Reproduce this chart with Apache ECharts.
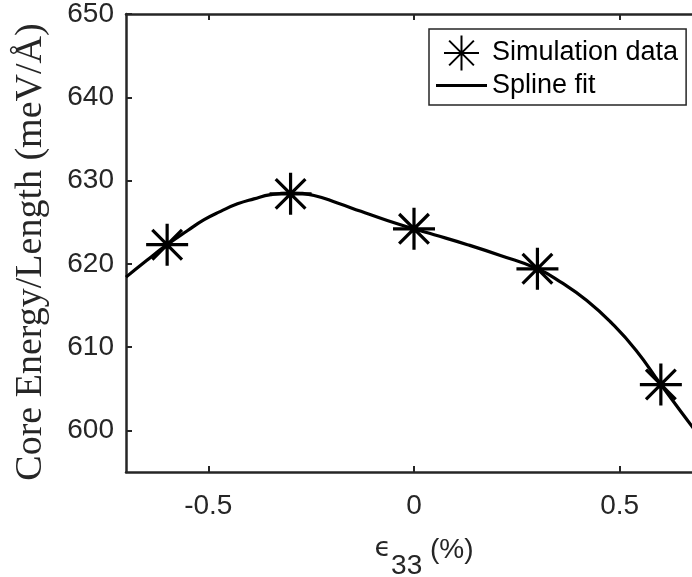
<!DOCTYPE html>
<html>
<head>
<meta charset="utf-8">
<script src="https://cdn.jsdelivr.net/npm/echarts@6/dist/echarts.min.js"></script>
<style>
  html, body { margin: 0; padding: 0; background: #fff; }
  #chart { width: 692px; height: 577px; }
</style>
</head>
<body>
<div id="chart"></div>
<script>
// simulation points
const simX = [-0.6, -0.3, 0, 0.3, 0.6]
const simY = [622.3, 628.4, 624.2, 619.4, 605.5]

// spline fit
const fitX = [-0.7, -0.65, -0.6, -0.55, -0.51, -0.47, -0.429, -0.389, -0.348, -0.3, -0.243, -0.186, -0.129, -0.065, 0, 0.049, 0.13, 0.21, 0.3, 0.36, 0.42, 0.48, 0.54, 0.6, 0.677, 0.7]
const fitY = [618.4, 620.4, 622.3, 624.0, 625.3, 626.3, 627.2, 627.8, 628.3, 628.5, 628.2, 627.3, 626.3, 625.2, 624.2, 623.5, 622.3, 621.0, 619.4, 617.7, 615.6, 612.9, 609.6, 605.5, 600.4, 598.9]

// axis ticks
const xTicks = [-0.5, 0, 0.5]
const yTicks = [600, 610, 620, 630, 640, 650]

const axisColor = '#262626'
// asterisk marker (matlab '*')
const star = 'path://M0,21L42,21M21,0L21,42M6.15,6.15L35.85,35.85M35.85,6.15L6.15,35.85'
// plain line for the legend
const dash = 'path://M0,0L51,0L51,3L0,3Z'

const chart = echarts.init(document.getElementById('chart'))

const xBase = {
  type: 'value',
  min: -0.7,
  max: 0.7,
  splitLine: { show: false },
  axisLine: { show: true, onZero: false, lineStyle: { color: axisColor, width: 2.5 } },
  axisTick: { show: true, inside: true, length: 6, customValues: xTicks, lineStyle: { color: axisColor, width: 2 } }
}
const yBase = {
  type: 'value',
  min: 595,
  max: 650,
  splitLine: { show: false },
  axisLine: { show: true, onZero: false, lineStyle: { color: axisColor, width: 2.5 } },
  axisTick: { show: true, inside: true, length: 6, customValues: yTicks, lineStyle: { color: axisColor, width: 2 } }
}

const option = {
  animation: false,
  backgroundColor: '#fff',
  grid: { left: 126, top: 14, right: -10, bottom: 105, outerBoundsMode: 'none' },
  legend: {
    orient: 'vertical',
    left: 429,
    top: 29,
    padding: [4, 8, 6, 7],
    itemWidth: 51,
    itemHeight: 35,
    itemGap: -1,
    borderColor: axisColor,
    borderWidth: 1.5,
    backgroundColor: '#fff',
    textStyle: { fontFamily: 'Liberation Sans', fontSize: 27, color: '#000' },
    data: [
      { name: 'Simulation data', icon: star },
      { name: 'Spline fit', icon: dash }
    ]
  },
  xAxis: [
    Object.assign({}, xBase, {
      position: 'bottom',
      axisLabel: {
        customValues: xTicks,
        margin: 20,
        fontFamily: 'Liberation Sans',
        fontSize: 28,
        color: axisColor
      },
      name: '{e|ϵ}{s|33}{n| (%)}',
      nameLocation: 'middle',
      nameGap: 63,
      nameTextStyle: {
        padding: [0, 0, 0, 20],
        rich: {
          e: { fontFamily: 'DejaVu Sans', fontSize: 27, color: axisColor, verticalAlign: 'top', lineHeight: 30 },
          s: { fontFamily: 'Liberation Sans', fontSize: 28, color: axisColor, verticalAlign: 'top', lineHeight: 30, padding: [17, 0, 0, 0] },
          n: { fontFamily: 'Liberation Sans', fontSize: 28, color: axisColor, verticalAlign: 'top', lineHeight: 30, padding: [1, 0, 0, 0] }
        }
      }
    }),
    Object.assign({}, xBase, { position: 'top', axisLabel: { show: false } })
  ],
  yAxis: [
    Object.assign({}, yBase, {
      position: 'left',
      axisLabel: {
        customValues: yTicks,
        margin: 12,
        fontFamily: 'Liberation Sans',
        fontSize: 28,
        color: axisColor
      },
      name: 'Core Energy/Length (meV/Å)',
      nameLocation: 'middle',
      nameGap: 76,
      nameTextStyle: {
        fontFamily: 'Liberation Serif',
        fontSize: 38,
        color: axisColor,
        padding: [0, 18, 0, 0]
      }
    }),
    Object.assign({}, yBase, { position: 'right', axisLabel: { show: false } })
  ],
  series: [
    {
      name: 'Simulation data',
      type: 'scatter',
      symbol: star,
      symbolSize: 42,
      z: 3,
      itemStyle: { color: 'none', borderColor: '#000', borderWidth: 3.2, opacity: 1 },
      data: simX.map((x, i) => [x, simY[i]])
    },
    {
      name: 'Spline fit',
      type: 'line',
      smooth: 0.5,
      showSymbol: false,
      symbol: 'none',
      z: 2,
      lineStyle: { color: '#000', width: 3.2 },
      itemStyle: { color: '#000' },
      data: fitX.map((x, i) => [x, fitY[i]])
    }
  ]
}

chart.setOption(option)
</script>
</body>
</html>
